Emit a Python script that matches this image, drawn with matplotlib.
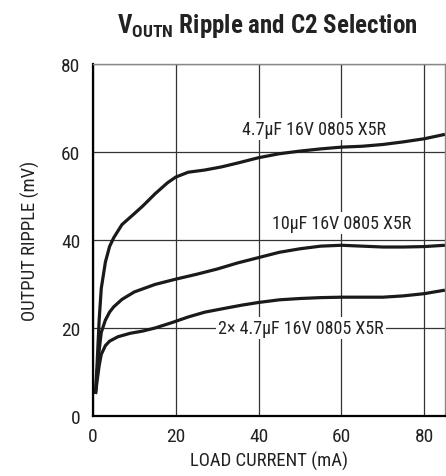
"""VOUTN ripple vs load current for several C2 choices."""

import matplotlib
matplotlib.use("Agg")
import matplotlib.pyplot as plt

FONT = ["Roboto Condensed", "Liberation Sans Narrow", "Liberation Sans", "DejaVu Sans"]
plt.rcParams["font.family"] = FONT
plt.rcParams["mathtext.fontset"] = "custom"
plt.rcParams["mathtext.rm"] = "Roboto Condensed"
plt.rcParams["mathtext.bf"] = "Roboto Condensed:bold"

# 4.7uF 16V 0805 X5R
x_47 = [0.6, 1.0, 1.5, 2, 3, 4, 5, 7, 10, 12, 15, 18, 20, 23, 27, 31, 35, 40,
        45, 50, 55, 60, 65, 70, 75, 80, 85]
y_47 = [5, 12, 22, 29, 35, 38.5, 40.5, 43.5, 46, 47.7, 50.5, 53, 54.3, 55.4,
        55.9, 56.6, 57.5, 58.7, 59.6, 60.2, 60.7, 61.1, 61.3, 61.7, 62.3, 63, 64]

# 10uF 16V 0805 X5R
x_10 = [0.6, 1.0, 1.5, 2, 3, 4, 5, 7, 10, 15, 20, 25, 30, 35, 40, 45, 50, 55,
        60, 65, 70, 75, 80, 85]
y_10 = [5, 10, 15, 19, 21.8, 23.6, 24.8, 26.5, 28.2, 29.9, 31.1, 32.2, 33.4,
        34.8, 36, 37.2, 38, 38.6, 38.8, 38.6, 38.4, 38.4, 38.5, 38.8]

# 2x 4.7uF 16V 0805 X5R
x_2x = [0.6, 1, 1.5, 2, 3, 4, 6, 9, 12, 15, 19, 23, 27, 32, 36, 40, 45, 50,
        55, 60, 65, 70, 75, 80, 85]
y_2x = [5, 8, 11.5, 14, 16, 17, 18, 18.8, 19.3, 20, 21.2, 22.5, 23.6, 24.5,
        25.2, 25.8, 26.4, 26.7, 26.9, 27, 27, 27, 27.3, 27.8, 28.6]

labels = ["4.7µF 16V 0805 X5R", "10µF 16V 0805 X5R", "2× 4.7µF 16V 0805 X5R"]
label_pos = [(53.5, 65.2), (60, 43.9), (50.2, 20)]

fig = plt.figure(figsize=(4.46, 4.77), dpi=100)
ax = fig.add_axes([0.2085, 0.1258, 0.789, 0.738])

for xs, ys in [(x_47, y_47), (x_10, y_10), (x_2x, y_2x)]:
    ax.plot(xs, ys, color="#1a1a1a", linewidth=2.3, solid_capstyle="butt", zorder=3)

for text, (lx, ly) in zip(labels, label_pos):
    ax.text(lx, ly, text, ha="center", va="center", fontsize=13, color="#222222",
            bbox=dict(facecolor="white", edgecolor="none", pad=1.5), zorder=4)

ax.set_xlim(0, 85)
ax.set_ylim(0, 80)
ax.set_xticks([0, 20, 40, 60, 80])
ax.set_yticks([0, 20, 40, 60, 80])
ax.grid(True, color="#333333", linewidth=0.9)
ax.tick_params(length=0, labelsize=14, colors="#222222")
ax.tick_params(axis="y", pad=9)
ax.tick_params(axis="x", pad=8)
for side in ["left", "bottom"]:
    ax.spines[side].set_linewidth(1.6)
for side in ["top", "right"]:
    ax.spines[side].set_color("#888888")
    ax.spines[side].set_linewidth(1.0)

ax.set_xlabel("LOAD CURRENT (mA)", fontsize=13.5, color="#222222", labelpad=4)
ax.set_ylabel("OUTPUT RIPPLE (mV)", fontsize=13.5, color="#222222", labelpad=15)

fig.text(0.6, 0.945, r"$\mathbf{V_{OUTN}}$ Ripple and C2 Selection", ha="center",
         va="center", fontsize=18, fontweight="bold", color="#222222")

fig.savefig("out.png", dpi=100)
